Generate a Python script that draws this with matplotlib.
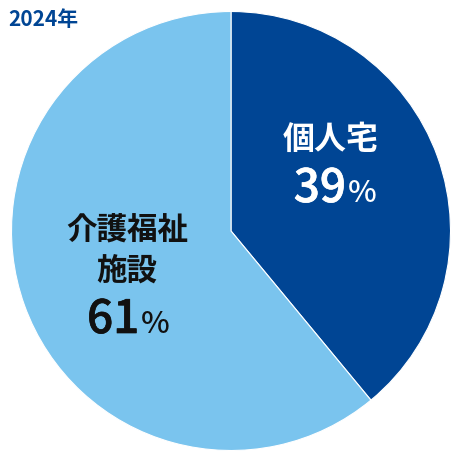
import matplotlib
matplotlib.use("Agg")
import matplotlib.pyplot as plt
import matplotlib.patheffects as pe

categories = ["個人宅", "介護福祉\n施設"]
values = [39, 61]
pct_labels = ["39", "61"]
title = "2024年"

colors = ["#004594", "#7AC4EE"]
text_colors = ["white", "#111111"]

plt.rcParams['font.family'] = ['Noto Sans CJK JP', 'DejaVu Sans']

fig = plt.figure(figsize=(4.62, 4.62), dpi=100)
ax = fig.add_axes([0, 0, 1, 1])
ax.set_xlim(0, 462)
ax.set_ylim(0, 462)
ax.set_aspect('equal')
ax.axis('off')

ax.pie(values, colors=colors, startangle=90, counterclock=False,
       center=(231, 231), radius=219.5,
       wedgeprops=dict(edgecolor='white', linewidth=0.8))
ax.set_xlim(0, 462)
ax.set_ylim(0, 462)

H = 462
# title
ax.text(8, H - 19, title, ha='left', va='center', fontsize=15,
        fontweight='bold', color='#004594')

def thick(c, w=0.5):
    return [pe.withStroke(linewidth=w, foreground=c)]

# labels (positions in px from top-left)
ax.text(331, H - 140, categories[0], ha='center', va='center', fontsize=23,
        fontweight='bold', color=text_colors[0])
ax.text(346, H - 202, pct_labels[0], ha='right', va='baseline', fontsize=33,
        fontweight=500, color=text_colors[0], path_effects=thick(text_colors[0]))
ax.text(348, H - 202, "%", ha='left', va='baseline', fontsize=22,
        fontweight=500, color=text_colors[0])

ax.text(127, H - 251, categories[1], ha='center', va='center', fontsize=22,
        fontweight='bold', color=text_colors[1], linespacing=1.35)
ax.text(139, H - 333, pct_labels[1], ha='right', va='baseline', fontsize=33,
        fontweight=500, color=text_colors[1], path_effects=thick(text_colors[1]))
ax.text(141, H - 333, "%", ha='left', va='baseline', fontsize=22,
        fontweight=500, color=text_colors[1])

fig.savefig("out.png", dpi=100, facecolor='white')
